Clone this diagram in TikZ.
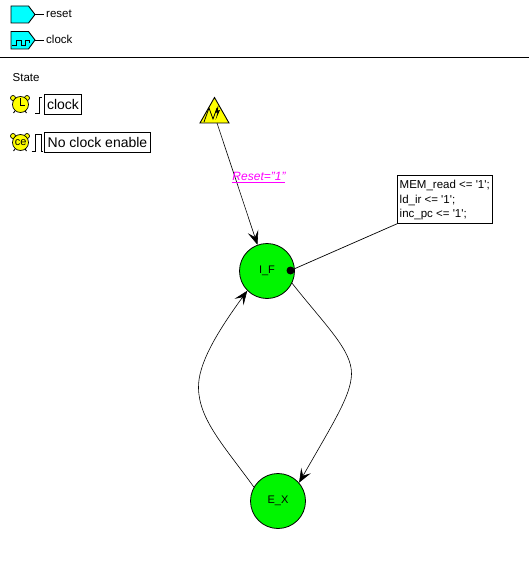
\documentclass[tikz,border=0pt]{standalone}
\usepackage{fontspec}
\setmainfont{Liberation Sans}
\usetikzlibrary{arrows.meta}
\definecolor{stategreen}{RGB}{0,245,0}
\definecolor{portcyan}{RGB}{0,255,255}
\definecolor{alarmyellow}{RGB}{255,255,0}
\definecolor{labelmagenta}{RGB}{255,0,255}
\tikzset{
  statenode/.style={circle,draw=black,fill=stategreen,line width=.8pt,minimum size=55pt,inner sep=0pt,font=\fontsize{11}{11}\selectfont},
  txt/.style={inner sep=0pt,anchor=west,font=\fontsize{11.5}{12}\selectfont},
  boxtxt/.style={draw=black,line width=.8pt,inner sep=0pt,font=\fontsize{14}{14}\selectfont},
  portshape/.style={draw=black,fill=portcyan,line width=.9pt},
  wire/.style={draw=black,line width=.7pt},
  flow/.style={draw=black,line width=.6pt,-{Stealth[length=14pt,width=11pt,inset=6pt]}},
  alarm/.style={draw=black,fill=alarmyellow,line width=.7pt}
}
\begin{document}
\begin{tikzpicture}[x=1pt,y=-1pt]
\useasboundingbox (0,0) rectangle (529,588);
\fill[white] (0,0) rectangle (529,588);
% legend
\draw[portshape] (11,6) -- (28.5,6) -- (35,14.5) -- (28.5,23) -- (11,23) -- cycle;
\draw[wire] (35,14) -- (44,14);
\node[txt] (resetlbl) at (46,14) {reset};
\draw[portshape] (11,31.5) -- (28.5,31.5) -- (35,40) -- (28.5,49) -- (11,49) -- cycle;
\draw[black,line width=.8pt] (12,45) -- (16,45) -- (16,40) -- (21,40) -- (21,45) -- (25,45) -- (25,40) -- (29,40) -- (29,43);
\draw[wire] (35,40) -- (44,40);
\node[txt] (clocklbl) at (46,39.5) {clock};
\draw[black,line width=.9pt] (0,57.5) -- (529,57.5);
\node[txt] (statelbl) at (12.5,77.5) {State};
% alarm 1
\draw[alarm] (13,98) circle (2.5); \draw[alarm] (27,98) circle (2.5);
\draw[black,line width=.9pt] (15,111) -- (13.5,113) (25,111) -- (26.5,113);
\draw[alarm] (20.5,104.5) circle (8);
\draw[black,line width=.9pt] (20.5,98.5) -- (20.5,105) -- (25,105);
\draw[black,line width=.8pt] (35,113) -- (39.5,113) -- (39.5,97) -- (42,97);
\node[boxtxt,minimum width=37pt,minimum height=20pt] (clockbox) at (63,104) {\raisebox{-1pt}{clock}};
% alarm 2
\draw[alarm] (13,136) circle (2.5); \draw[alarm] (27,136) circle (2.5);
\draw[black,line width=.9pt] (15,149) -- (13.5,151) (25,149) -- (26.5,151);
\draw[alarm] (20.5,142.5) circle (8);
\node[inner sep=0pt,font=\fontsize{11}{11}\selectfont] (cetext) at (20.8,142.5) {ce};
\draw[black,line width=.8pt] (31.5,151) -- (35,151) -- (35,134) -- (41,134) -- (41,151) -- (43,151);
\node[boxtxt,minimum width=106pt,minimum height=20pt] (ceb) at (97.5,142.5) {\raisebox{-.5pt}{No clock enable}};
% reset trigger
\coordinate (trigbase) at (217,123);
\draw[draw=black,fill=alarmyellow,line width=.9pt] (214.5,97.5) -- (229,123) -- (200,123) -- cycle;
\draw[black,line width=.8pt] (204,122) -- (209,108) -- (213,119) -- (217,108);
\fill[black] (218.5,105) -- (215,113) -- (217.5,112.5) -- (215.5,120) -- (220,110) -- (217.8,110.5) -- cycle;
% states
\node[statenode] (IF) at (267,271) {\raisebox{-1.5pt}{I\_F}};
\node[statenode] (EX) at (278,501) {\raisebox{-1.5pt}{E\_X}};
% connectors
\draw[flow] (trigbase) -- (IF.110);
\path[flow] (IF.-26) .. controls (325,325) and (352,350) .. (351.5,374) .. controls (351,395) and (335,420) .. (EX.41);
\path[flow] (EX.150) .. controls (225,447) and (199,420) .. (198.5,388) .. controls (198,365) and (215,335) .. (IF.225);
% action box
\node[draw=black,fill=white,line width=.8pt,inner sep=0pt,anchor=north west,minimum width=95pt,minimum height=48pt] (act) at (397,175) {};
\node[inner sep=0pt,anchor=west,font=\fontsize{11.5}{12}\selectfont] (a1) at (399.5,185) {MEM\_read <= \textquotesingle1\textquotesingle;};
\node[inner sep=0pt,anchor=west,font=\fontsize{11.5}{12}\selectfont] (a2) at (399.5,200) {ld\_ir <= \textquotesingle1\textquotesingle;};
\node[inner sep=0pt,anchor=west,font=\fontsize{11.5}{12}\selectfont] (a3) at (399.5,215) {inc\_pc <= \textquotesingle1\textquotesingle;};
\node[circle,fill=black,inner sep=0pt,minimum size=8pt] (dot) at (290.5,270.5) {};
\draw[wire] (dot) -- (act.south west);
% reset label
\node[inner sep=0pt,text=labelmagenta,font=\fontsize{12}{12}\selectfont\itshape] (rl) at (259,176) {Reset="1"};
\draw[labelmagenta,line width=.8pt] (231.5,182.5) -- (285,182.5);
\end{tikzpicture}
\end{document}
